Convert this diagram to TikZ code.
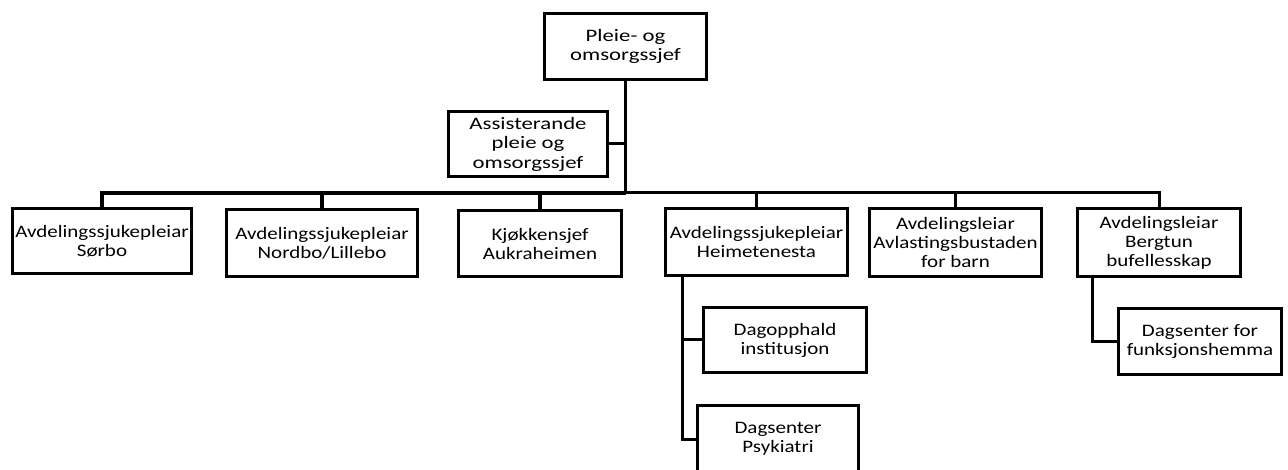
\documentclass[tikz,border=0pt]{standalone}
\usepackage{fontspec}
\setmainfont{Carlito}
\newfontfamily\boxfont[FakeStretch=1.2]{Carlito}
\newfontfamily\headfont[FakeStretch=1.3]{Carlito}

\begin{document}
\begin{tikzpicture}[x=1pt, y=-1pt,
		b/.style={draw, line width=3.6pt, align=center, inner sep=1pt,
			minimum width=163pt, minimum height=66pt,
			font=\boxfont\fontsize{17.5}{19}\selectfont},
		hb/.style={b, font=\headfont\fontsize{17.5}{19.5}\selectfont},
		l/.style={line width=3pt},
		thick bar/.style={line width=4pt}]
	\useasboundingbox[fill=white] (0, 0) rectangle (1288, 470);

	\node[hb, minimum width=162pt] (top) at (625.5, 46.5) {Pleie- og\\omsorgssjef};
	\node[hb, minimum width=159pt, minimum height=65pt] (assist) at (528, 144) {Assisterande\\pleie og\\omsorgssjef};

	\node[b, minimum width=179pt, minimum height=65pt] (sorbo) at (102, 241) {Avdelingssjukepleiar\\Sørbo};
	\node[b, minimum width=191pt, minimum height=67pt] (nordbo) at (322, 243) {Avdelingssjukepleiar\\Nordbo/Lillebo};
	\node[b, minimum height=66pt] (kjokken) at (540, 243.5) {Kjøkkensjef\\Aukraheimen};
	\node[b, minimum width=182pt, minimum height=67pt] (heime) at (756.5, 242) {Avdelingssjukepleiar\\Heimetenesta};
	\node[b, minimum width=172pt, minimum height=68pt] (avlast) at (955.5, 242.5) {Avdelingsleiar\\Avlastingsbustaden\\for barn};
	\node[b, minimum height=68pt] (bergtun) at (1159, 242.5) {Avdelingsleiar\\Bergtun\\bufellesskap};

	\node[b, minimum height=65pt] (dagopp) at (785, 340) {Dagopphald\\institusjon};
	\node[b, minimum width=161pt, minimum height=67pt] (psyk) at (778, 439) {Dagsenter\\Psykiatri};
	\node[b] (funk) at (1200, 341.5) {Dagsenter for\\funksjonshemma};

	\coordinate (bar) at (625.5, 193);
	\coordinate (heimeleg) at ([xshift=19pt]heime.south west);
	\coordinate (bergleg) at ([xshift=17pt]bergtun.south west);

	\draw[l] (top) -- (bar);
	\draw[l] (assist.east) -- (assist.east -| bar);
	\draw[l, thick bar] (sorbo.north) |- (bar);
	\draw[l, thick bar] (nordbo.north) |- (bar);
	\draw[l, thick bar] (kjokken.north) |- (bar);
	\draw[l] (heime.north) |- (bar);
	\draw[l] (avlast.north) |- (bar);
	\draw[l] (bergtun.north) |- (bar);

	\draw[l] (heimeleg) |- (dagopp.west);
	\draw[l] (heimeleg) |- (psyk.west);
	\draw[l] (bergleg) |- (funk.west);
\end{tikzpicture}
\end{document}
